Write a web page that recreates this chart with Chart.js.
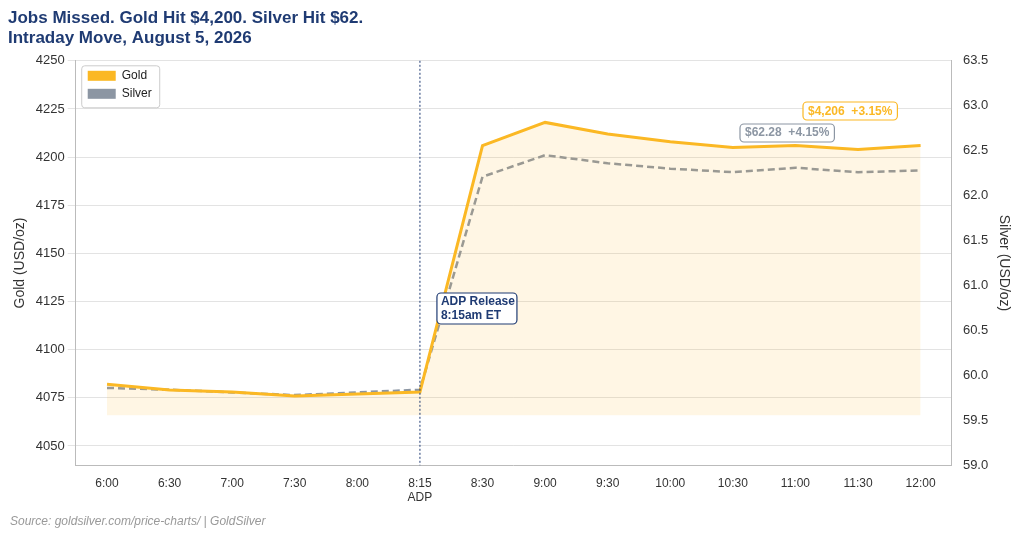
<!DOCTYPE html>
<html><head><meta charset="utf-8">
<script src="https://cdn.jsdelivr.net/npm/chart.js@4"></script>
<style>html,body{margin:0;padding:0;background:#fff}#w{width:1024px;height:538px;position:relative}</style>
</head><body><div id="w"><canvas id="c" width="1024" height="538"></canvas></div>
<script>
const categories=["6:00","6:30","7:00","7:30","8:00","8:15","8:30","9:00","9:30","10:00","10:30","11:00","11:30","12:00"];
const goldValues=[4082,4079,4078,4076,4077,4078,4206,4218,4212,4208,4205,4206,4204,4206];
const silverValues=[59.86,59.84,59.81,59.78,59.81,59.84,62.21,62.45,62.36,62.30,62.26,62.31,62.26,62.28];
const goldTicks=[4050,4075,4100,4125,4150,4175,4200,4225,4250];
const silverTicks=[59.0,59.5,60.0,60.5,61.0,61.5,62.0,62.5,63.0,63.5];
const GOLD='#fbb824',SILVER='#8c96a3',NAVY='#1f3b73';
const F='"Liberation Sans",Arial';
function rr(ctx,x,y,w,h,r){ctx.beginPath();ctx.roundRect(x,y,w,h,r);}
const deco={id:'deco',afterDatasetsDraw(ch){
 const ctx=ch.ctx,x=ch.scales.x,a=ch.chartArea;
 const px=x.getPixelForValue(5);
 ctx.save();ctx.strokeStyle=NAVY;ctx.lineWidth=1;ctx.setLineDash([2,2]);
 ctx.beginPath();ctx.moveTo(px,a.top);ctx.lineTo(px,a.bottom);ctx.stroke();ctx.setLineDash([]);
 ctx.fillStyle='#fff';ctx.strokeStyle='#ccc';rr(ctx,a.left+6,a.top+5,78,42,3);ctx.fill();ctx.stroke();
 ctx.font='12px '+F;ctx.textBaseline='middle';
 ctx.fillStyle=GOLD;ctx.fillRect(a.left+12,a.top+10,28,10);
 ctx.fillStyle=SILVER;ctx.fillRect(a.left+12,a.top+28,28,10);
 ctx.fillStyle='#222';ctx.fillText('Gold',a.left+46,a.top+15);ctx.fillText('Silver',a.left+46,a.top+33);
 ctx.font='bold 12px '+F;
 ctx.fillStyle='#fff';ctx.strokeStyle=NAVY;ctx.lineWidth=1.2;rr(ctx,px+17,293,80,31,4);ctx.fill();ctx.stroke();
 ctx.fillStyle=NAVY;ctx.textAlign='left';ctx.fillText('ADP Release',px+21,302);ctx.fillText('8:15am ET',px+21,316);
 let t='$4,206  +3.15%',w=ctx.measureText(t).width+10;
 ctx.fillStyle='#fff';ctx.strokeStyle=GOLD;rr(ctx,803,102,w,18,4);ctx.fill();ctx.stroke();
 ctx.fillStyle=GOLD;ctx.fillText(t,808,112);
 t='$62.28  +4.15%';w=ctx.measureText(t).width+10;
 ctx.fillStyle='#fff';ctx.strokeStyle=SILVER;rr(ctx,740,124,w,18,4);ctx.fill();ctx.stroke();
 ctx.fillStyle=SILVER;ctx.fillText(t,745,133);
 ctx.restore();
}};
new Chart(document.getElementById('c'),{type:'line',
data:{labels:categories,datasets:[
 {label:'Gold',data:goldValues,borderColor:GOLD,borderWidth:3,pointRadius:0,tension:0,yAxisID:'y',fill:{value:4066},backgroundColor:'rgba(251,184,36,0.12)'},
 {label:'Silver',data:silverValues,borderColor:SILVER,borderWidth:2.5,borderDash:[7,4],pointRadius:0,tension:0,yAxisID:'y1',fill:false}
]},
options:{responsive:false,animation:false,devicePixelRatio:1,
 layout:{padding:{left:8,right:8,top:8,bottom:30}},
 plugins:{legend:{display:false},tooltip:{enabled:false},
  title:{display:true,align:'start',text:['Jobs Missed. Gold Hit $4,200. Silver Hit $62.','Intraday Move, August 5, 2026'],color:NAVY,font:{size:17,weight:'bold',family:F},padding:{top:0,bottom:12},fullSize:true}},
 scales:{
  x:{offset:true,grid:{display:false},border:{color:'#bbb'},ticks:{color:'#333',font:{size:12,family:F},maxRotation:0,autoSkip:false,callback:(v,i)=>i===5?['8:15','ADP']:categories[i]}},
  y:{min:4040,max:4250,afterBuildTicks:s=>{s.ticks=goldTicks.map(v=>({value:v}))},grid:{color:'#e3e3e3'},border:{color:'#bbb'},ticks:{color:'#333',font:{size:13,family:F},callback:v=>String(v)},title:{display:true,text:'Gold (USD/oz)',color:'#333',font:{size:14,family:F}}},
  y1:{position:'right',min:59,max:63.5,afterBuildTicks:s=>{s.ticks=silverTicks.map(v=>({value:v}))},grid:{display:false},border:{color:'#bbb'},ticks:{color:'#333',font:{size:13,family:F},callback:v=>v.toFixed(1)},title:{display:true,text:'Silver (USD/oz)',color:'#333',font:{size:14,family:F}}}
 }},
plugins:[deco,{id:'src',afterDraw(ch){const c=ch.ctx;c.save();c.font='italic 12px '+F;c.fillStyle='#999';c.textBaseline='middle';c.fillText('Source: goldsilver.com/price-charts/ | GoldSilver',10,522);c.restore();}}]
});
</script></body></html>
